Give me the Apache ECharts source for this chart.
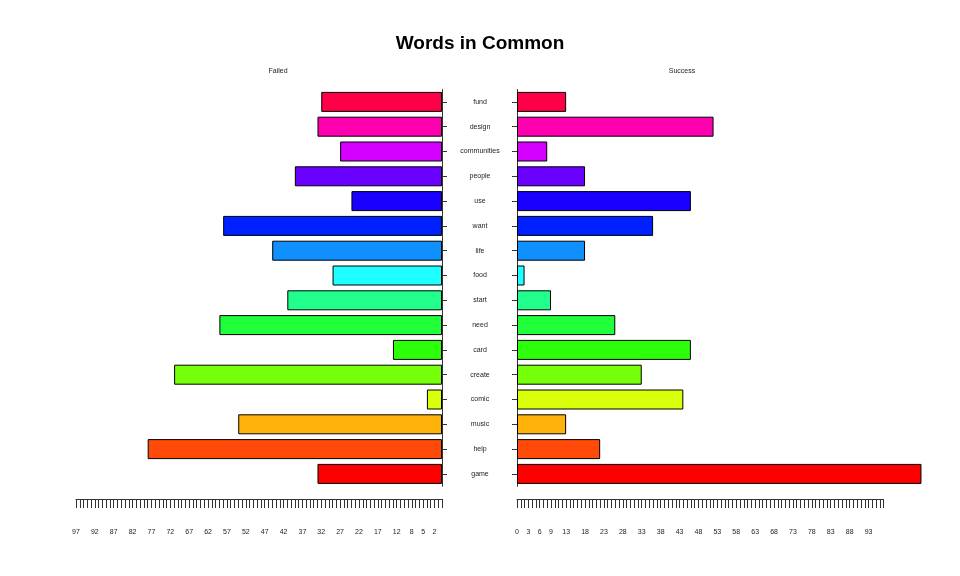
<!DOCTYPE html>
<html>
<head>
<meta charset="utf-8">
<script src="https://cdn.jsdelivr.net/npm/echarts@6/dist/echarts.min.js"></script>
<style>html,body{margin:0;padding:0;background:#fff}#c{width:960px;height:576px}</style>
</head>
<body>
<div id="c"></div>
<script>
// categories listed bottom to top
var categories = ['game','help','music','comic','create','card','need','start','food','life','want','use','people','communities','design','fund'];
var failedValues = [33,78,54,4,71,13,59,41,29,45,58,24,39,27,33,32];
var successValues = [107,22,13,44,33,46,26,9,2,18,36,46,18,8,52,13];
var barColors = ['#FF0000','#FF4A0A','#FFB30A','#D9FF0A','#75FF0A','#2BFF0A','#20FF3A','#20FF8C','#20FFFF','#1090FF','#0020FF','#1A00FF','#6A00FF','#D500FF','#FF00B0','#FF0048'];
var leftTickLabels = [97,92,87,82,77,72,67,62,57,52,47,42,37,32,27,22,17,12,8,5,2];
var rightTickLabels = [0,3,6,9,13,18,23,28,33,38,43,48,53,58,63,68,73,78,83,88,93];
var axisMax = 97;

var FONT = 'Liberation Sans, Arial, sans-serif';
var chart = echarts.init(document.getElementById('c'));

function barData(vals){
  return vals.map(function(v,i){ return {value:v, itemStyle:{color:barColors[i]}}; });
}
function tickAxis(labels, inverse){
  return {
    type:'value', min:0, max:axisMax, interval:1, inverse:inverse,
    axisLine:{show:true, lineStyle:{color:'#333', width:1}},
    axisTick:{show:true, length:9, lineStyle:{color:'#333', width:1}},
    splitLine:{show:false},
    axisLabel:{show:true, margin:30, fontSize:7, color:'#222', fontFamily:FONT,
      formatter:function(v){ return labels.indexOf(Math.round(v))>=0 ? String(Math.round(v)) : ''; }}
  };
}

var pxPerUnit = 3.78;
var option = {
  animation:false,
  backgroundColor:'#fff',
  title:[
    {text:'Words in Common', left:'center', top:29, textStyle:{fontFamily:FONT, fontSize:19, fontWeight:'bold', color:'#000'}}
  ],
  graphic:[
    {type:'text', x:278, y:71, style:{text:'Failed', textAlign:'center', textVerticalAlign:'middle', font:'7px Liberation Sans, Arial, sans-serif', fill:'#222'}},
    {type:'text', x:682, y:71, style:{text:'Success', textAlign:'center', textVerticalAlign:'middle', font:'7px Liberation Sans, Arial, sans-serif', fill:'#222'}}
  ],
  grid:[
    {left:76, width:366, top:89.5, height:396.8},
    {left:517, width:110*pxPerUnit, top:89.5, height:396.8},
    {left:76, width:366, top:499, height:0},
    {left:517, width:axisMax*pxPerUnit, top:499, height:0}
  ],
  xAxis:[
    {gridIndex:0, type:'value', min:0, max:axisMax, inverse:true, show:false},
    {gridIndex:1, type:'value', min:0, max:110, show:false},
    Object.assign({gridIndex:2}, tickAxis(leftTickLabels, true)),
    Object.assign({gridIndex:3}, tickAxis(rightTickLabels, false))
  ],
  yAxis:[
    {gridIndex:0, type:'category', data:categories, position:'right',
      axisLine:{show:true, lineStyle:{color:'#333'}},
      axisTick:{show:true, length:5, alignWithLabel:true, lineStyle:{color:'#333'}},
      axisLabel:{show:false}},
    {gridIndex:1, type:'category', data:categories, position:'left',
      axisLine:{show:true, lineStyle:{color:'#333'}},
      axisTick:{show:true, length:5, alignWithLabel:true, lineStyle:{color:'#333'}},
      axisLabel:{show:true, margin:37, align:'center', fontSize:7, color:'#222', fontFamily:FONT}},
    {gridIndex:2, type:'value', show:false},
    {gridIndex:3, type:'value', show:false}
  ],
  series:[
    {type:'bar', xAxisIndex:0, yAxisIndex:0, barWidth:20, data:barData(failedValues),
      itemStyle:{borderColor:'#000', borderWidth:1}},
    {type:'bar', xAxisIndex:1, yAxisIndex:1, barWidth:20, data:barData(successValues),
      itemStyle:{borderColor:'#000', borderWidth:1}}
  ]
};
chart.setOption(option);
</script>
</body>
</html>
